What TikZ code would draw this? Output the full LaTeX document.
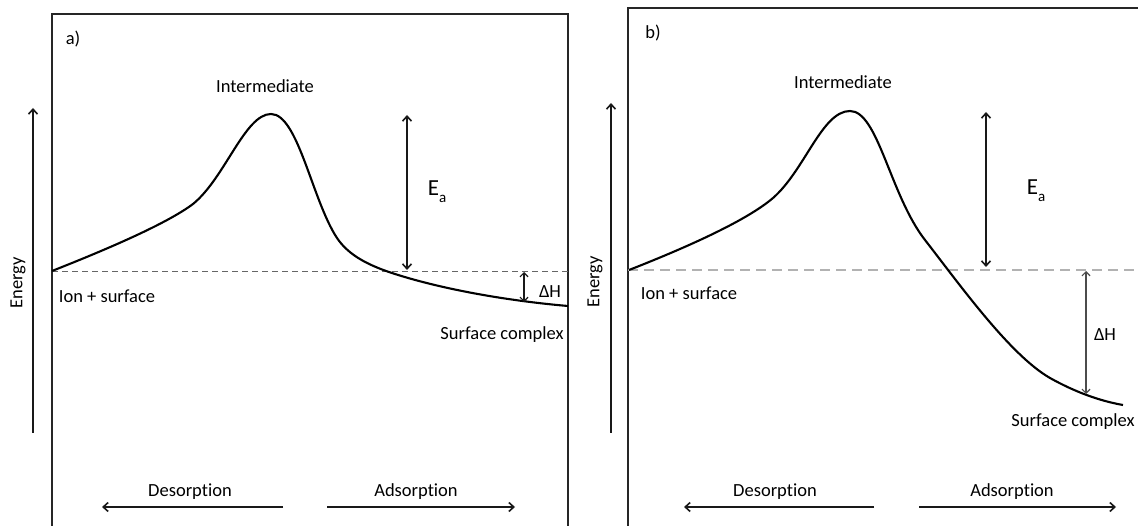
\documentclass[tikz,border=0pt]{standalone}
\usepackage{fontspec}
\setmainfont{Carlito}[Ligatures={NoCommon,NoContextual}]
\usetikzlibrary{arrows.meta}
\begin{document}
\begin{tikzpicture}[x=1pt,y=-1pt,
  lbl/.style={font=\fontsize{18.5}{20}\selectfont, inner sep=0pt, text=black},
  ealbl/.style={font=\fontsize{23}{24}\selectfont, inner sep=0pt, text=black},
  frame/.style={line width=2pt, black!85},
  curve/.style={line width=2.1pt, black, line join=round},
  arr/.style={line width=1.6pt, black!90, -{Straight Barb[length=5pt,width=9pt]}},
  darr/.style={line width=1.6pt, black!90, {Straight Barb[length=5pt,width=9pt]}-{Straight Barb[length=5pt,width=9pt]}},
  thinarr/.style={line width=1.2pt, {Straight Barb[length=4pt,width=8pt]}-{Straight Barb[length=4pt,width=8pt]}},
  baseA/.style={line width=1pt, gray!80!black, dash pattern=on 6pt off 4pt},
  baseB/.style={line width=1.5pt, gray!60, dash pattern=on 10pt off 6pt}]
\useasboundingbox (0,0) rectangle (1138,526);
\clip (0,0) rectangle (1138,526);
\fill[white] (0,0) rectangle (1138,526);

% ---------------- panel a ----------------
\draw[frame] (52,540) -- (52,14) -- (568,14) -- (568,540);
\coordinate (baseAL) at (52,271.5);
\coordinate (baseAR) at (568,271.5);
\draw[baseA] (baseAL) -- (baseAR);
\draw[curve] (52,271) .. controls (100,252) and (165,225) .. (193,204)
  .. controls (225,178) and (245,114) .. (271,114)
  .. controls (298,114) and (312,200) .. (337,238)
  .. controls (349,256) and (370,266) .. (395,274)
  .. controls (445,290) and (510,301) .. (568,306);

\node[lbl] (labA) at (73,39) {a)};
\node[lbl] (intA) at (265,86) {Intermediate};
\node[lbl] (ionA) at (107,296) {Ion + surface};
\node[lbl] (scA) at (502,335) {Surface complex};
\node[lbl] (dhA) at (550,292) {ΔH};
\node[ealbl] (eaA) at (437,192) {E\raisebox{-0.3em}{\fontsize{15}{15}\selectfont a}};
\node[lbl, rotate=90] (enA) at (18,283) {Energy};
\node[lbl] (desA) at (190,492) {Desorption};
\node[lbl] (adsA) at (416,492) {Adsorption};

\coordinate (enAb) at (33,433);
\coordinate (enAt) at (33,108);
\draw[arr] (enAb) -- (enAt);
\coordinate (eaAt) at (407,115);
\coordinate (eaAb) at (407,270);
\draw[darr] (eaAt) -- (eaAb);
\coordinate (dhAt) at (524,272);
\coordinate (dhAb) at (524,302);
\draw[thinarr, black!90] (dhAt) -- (dhAb);
\coordinate (desAs) at (283,507);
\coordinate (desAe) at (102,507);
\draw[arr] (desAs) -- (desAe);
\coordinate (adsAs) at (327,507);
\coordinate (adsAe) at (515,507);
\draw[arr] (adsAs) -- (adsAe);

% ---------------- panel b ----------------
\draw[frame] (628,540) -- (628,8) -- (1145,8);
\coordinate (baseBL) at (628,270);
\coordinate (baseBR) at (1145,270);
\draw[baseB] (baseBL) -- (baseBR);
\draw[curve] (629,270) .. controls (680,250) and (745,222) .. (773,198)
  .. controls (805,170) and (822,111) .. (850,111)
  .. controls (878,111) and (890,195) .. (925,240)
  .. controls (960,285) and (1010,355) .. (1050,378)
  .. controls (1075,392) and (1100,401) .. (1123,405);

\node[lbl] (labB) at (653,33) {b)};
\node[lbl] (intB) at (843,82) {Intermediate};
\node[lbl] (ionB) at (689,293) {Ion + surface};
\node[lbl] (scB) at (1073,422) {Surface complex};
\node[lbl] (dhB) at (1105,335) {ΔH};
\node[ealbl] (eaB) at (1036,191) {E\raisebox{-0.3em}{\fontsize{15}{15}\selectfont a}};
\node[lbl, rotate=90] (enB) at (595,282) {Energy};
\node[lbl] (desB) at (775,492) {Desorption};
\node[lbl] (adsB) at (1012,492) {Adsorption};

\coordinate (enBb) at (611,433);
\coordinate (enBt) at (611,103);
\draw[arr] (enBb) -- (enBt);
\coordinate (eaBt) at (986,112);
\coordinate (eaBb) at (986,267);
\draw[darr] (eaBt) -- (eaBb);
\coordinate (dhBt) at (1086,271);
\coordinate (dhBb) at (1086,394);
\draw[thinarr, black!70] (dhBt) -- (dhBb);
\coordinate (desBs) at (874,507);
\coordinate (desBe) at (684,507);
\draw[arr] (desBs) -- (desBe);
\coordinate (adsBs) at (919,507);
\coordinate (adsBe) at (1116,507);
\draw[arr] (adsBs) -- (adsBe);
\end{tikzpicture}
\end{document}
